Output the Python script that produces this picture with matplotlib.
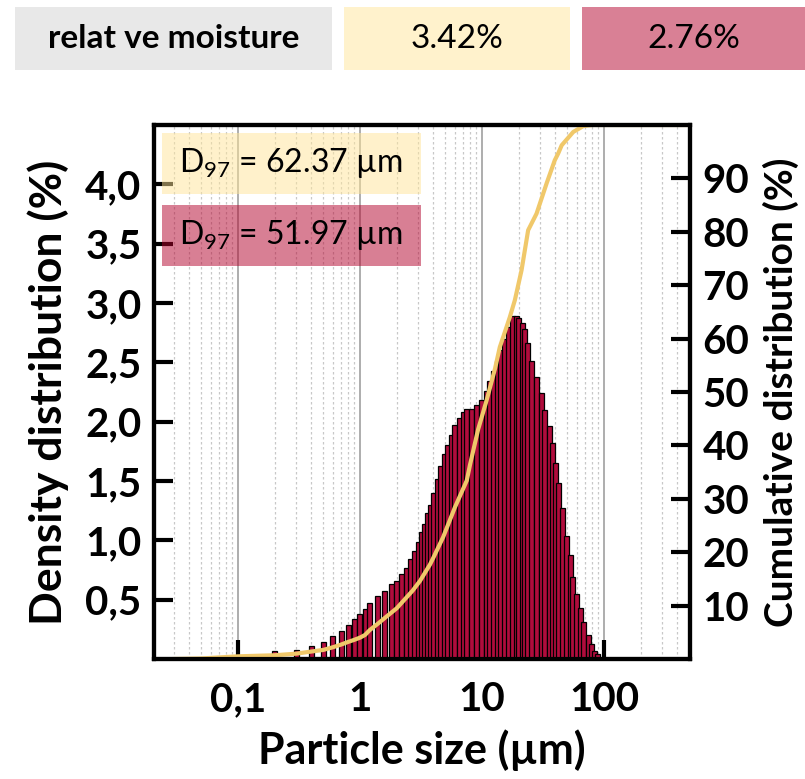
import numpy as np
import matplotlib
matplotlib.use("Agg")
import matplotlib.pyplot as plt
from matplotlib.patches import Rectangle
from matplotlib.ticker import FixedLocator, LogLocator, NullFormatter

plt.rcParams['font.family'] = ['Lato', 'DejaVu Sans']
plt.rcParams['mathtext.fontset'] = 'custom'
plt.rcParams['mathtext.rm'] = 'Lato'

# density distribution (bars), size in um, value in %
sizes = [0.2, 0.3, 0.4, 0.5, 0.6, 0.7, 0.8, 0.9, 1.0, 1.1, 1.2, 1.4, 1.6, 1.8,
         2.0, 2.2, 2.4, 2.6, 2.8, 3.0, 3.2, 3.4, 3.6, 3.8, 4.0, 4.3, 4.6, 4.9,
         5.2, 5.6, 6.0, 6.5, 7.0, 7.5, 8.2, 9.0, 9.9, 10.8, 11.5, 12.4, 13.4,
         14.3, 15.4, 16.6, 17.9, 19.2, 20.1, 21.3, 22.5, 23.8, 25.7, 28.2, 30.5,
         32.8, 35.7, 38.2, 40.0, 42.7, 46.1, 49.7, 53.1, 55.7, 59.6, 63.6, 68.5,
         74.6, 79.0, 84.4, 89.3]
density = [0.07, 0.08, 0.11, 0.14, 0.19, 0.24, 0.29, 0.34, 0.38, 0.42, 0.47, 0.53,
           0.57, 0.63, 0.66, 0.72, 0.77, 0.84, 0.91, 0.99, 1.07, 1.14, 1.23, 1.30,
           1.40, 1.52, 1.63, 1.73, 1.80, 1.89, 1.97, 2.03, 2.08, 2.11, 2.11, 2.14,
           2.18, 2.26, 2.34, 2.43, 2.51, 2.60, 2.70, 2.80, 2.89, 2.89, 2.87, 2.83,
           2.78, 2.66, 2.51, 2.38, 2.24, 2.10, 1.96, 1.82, 1.65, 1.48, 1.27, 1.04,
           0.88, 0.69, 0.55, 0.43, 0.31, 0.20, 0.13, 0.07, 0.04]

# cumulative distribution (line)
cum_sizes = [0.03, 0.05, 0.1, 0.2, 0.3, 0.4, 0.5, 0.6, 0.7, 0.8, 0.9, 1.0, 1.1,
             1.2, 1.4, 1.6, 2.0, 2.7, 3.1, 3.75, 4.0, 4.8, 6.0, 7.5, 8.0, 9.3,
             10.9, 12.8, 14.0, 16.9, 18.6, 21.1, 23.9, 28.0, 33.9, 39.5, 42.2,
             45.0, 56.0, 67.7, 80.0, 500.0]
cum_vals = [0.0, 0.1, 0.5, 0.7, 1.0, 1.4, 1.7, 2.2, 2.7, 3.2, 3.6, 4.0, 4.5, 5.4,
            6.6, 7.7, 9.5, 12.8, 14.6, 17.7, 19.0, 22.8, 28.4, 33.4, 36.5, 43.0,
            48.4, 54.4, 58.4, 64.0, 67.2, 72.8, 80.3, 83.4, 89.1, 93.4, 94.7,
            96.2, 98.7, 99.8, 100.0, 100.0]

header_labels = ["relat ve moisture", "3.42%", "2.76%"]
d97_labels = [r"$\mathregular{D_{97}}$ = 62.37 µm", r"$\mathregular{D_{97}}$ = 51.97 µm"]

xticks = [0.1, 1, 10, 100]
xticklabels = ["0,1", "1", "10", "100"]
yticks = [0.5, 1.0, 1.5, 2.0, 2.5, 3.0, 3.5, 4.0]
yticklabels = ["0,5", "1,0", "1,5", "2,0", "2,5", "3,0", "3,5", "4,0"]
y2ticks = [10, 20, 30, 40, 50, 60, 70, 80, 90]

bar_color = '#B00C3C'
line_color = '#F0C86A'
yellow = '#FFF2CC'
pink = '#D98095'
grey = '#E8E8E8'

W, H = 805, 779
fig = plt.figure(figsize=(W / 100, H / 100), dpi=100)
ax = fig.add_axes([154 / W, 1 - 659 / H, (690 - 154) / W, (659 - 125) / H])

# bars of constant width in log space
half = 10 ** (2.5 / 122)
s = np.array(sizes)
ax.bar(s / half, density, width=s * half - s / half, align='edge',
       color=bar_color, edgecolor='black', linewidth=0.9, zorder=3)

ax.set_xscale('log')
ax.set_xlim(0.0205, 507)
ax.set_ylim(0, 4.5)
ax.xaxis.set_major_locator(FixedLocator(xticks))
ax.set_xticklabels(xticklabels)
ax.xaxis.set_minor_locator(LogLocator(base=10, subs=np.arange(2, 10)))
ax.xaxis.set_minor_formatter(NullFormatter())
ax.set_yticks(yticks)
ax.set_yticklabels(yticklabels)

ax.grid(True, which='major', axis='x', color='#A0A0A0', linewidth=1.2, zorder=0)
ax.grid(True, which='minor', axis='x', color='#C8C8C8', linewidth=0.9,
        linestyle=(0, (2, 2)), zorder=0)
ax.set_axisbelow(True)

ax.tick_params(axis='both', which='major', direction='in', length=14, width=3,
               labelsize=29, pad=9)
ax.tick_params(axis='x', which='minor', length=0)
ax.tick_params(axis='x', which='major', pad=16)
for lab in ax.get_xticklabels() + ax.get_yticklabels():
    lab.set_fontweight('bold')
for sp in ax.spines.values():
    sp.set_linewidth(3)

ax.set_xlabel("Particle size (µm)", fontsize=31, fontweight='bold', labelpad=8)
ax.set_ylabel("Density distribution (%)", fontsize=32, fontweight='bold', labelpad=12)

ax2 = ax.twinx()
ax2.plot(cum_sizes, cum_vals, color=line_color, linewidth=3, zorder=2)
ax2.set_ylim(0, 100)
ax2.set_yticks(y2ticks)
ax2.tick_params(axis='y', direction='in', length=14, width=3, labelsize=29, pad=9)
for lab in ax2.get_yticklabels():
    lab.set_fontweight('bold')
for sp in ax2.spines.values():
    sp.set_linewidth(3)
ax2.set_ylabel("Cumulative distribution (%)", fontsize=28, fontweight='bold',
               labelpad=10)

# D97 boxes inside the plot
box_cols = ['#FFE599', '#B3002B']
box_tops = [133, 205]
for lab, col, top in zip(d97_labels, box_cols, box_tops):
    x0 = (162 - 154) / (690 - 154)
    w = (421 - 162) / (690 - 154)
    y1 = (659 - top) / (659 - 125)
    h = 61 / (659 - 125)
    ax2.add_patch(Rectangle((x0, y1 - h), w, h, transform=ax2.transAxes,
                            facecolor=col, alpha=0.5, edgecolor='none', zorder=5))
    ax2.text((179 - 154) / (690 - 154), y1 - h / 2, lab, transform=ax2.transAxes,
             fontsize=23, va='center', ha='left', zorder=6)

# header boxes
header_cols = [grey, yellow, pink]
header_x = [(15, 332), (344, 570), (582, 805)]
for lab, col, (xa, xb) in zip(header_labels, header_cols, header_x):
    fig.patches.append(Rectangle((xa / W, 1 - 70 / H), (xb - xa) / W, 63 / H,
                                 transform=fig.transFigure, facecolor=col,
                                 edgecolor='none'))
    fig.text((xa + xb) / 2 / W, 1 - 39 / H, lab, ha='center', va='center',
             fontsize=24, fontweight='bold' if lab == header_labels[0] else 'normal')

fig.savefig('out.png', dpi=100)
